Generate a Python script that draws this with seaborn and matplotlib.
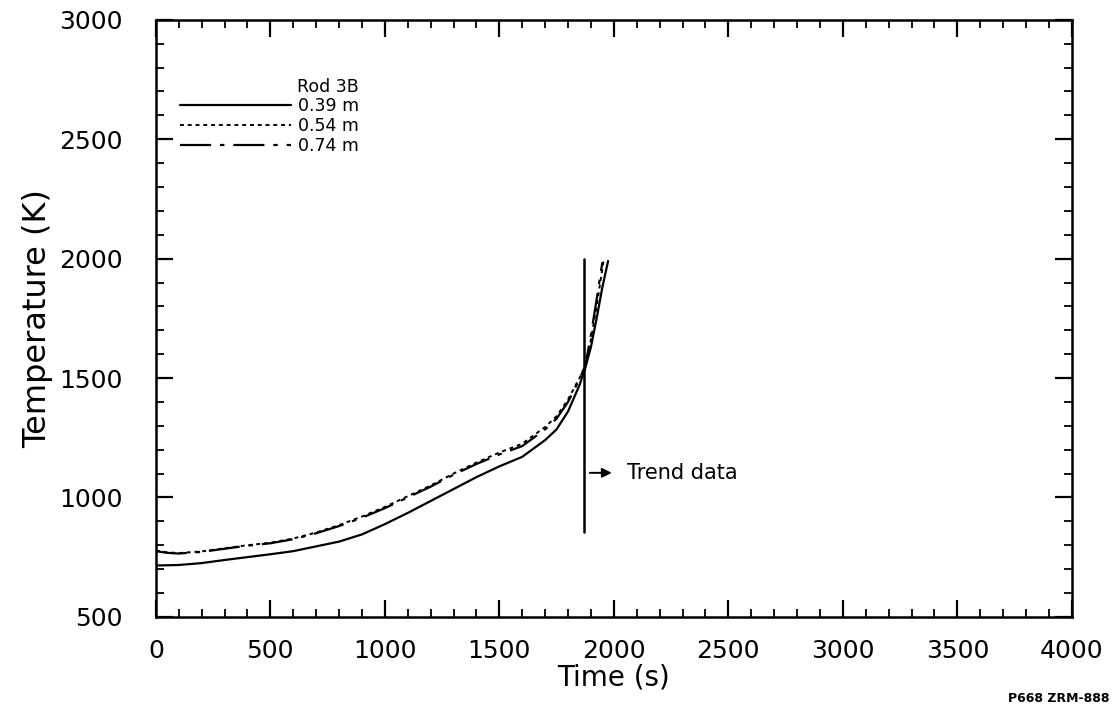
import matplotlib
matplotlib.use("Agg")
import matplotlib.pyplot as plt
import seaborn as sns
import pandas as pd
from matplotlib.ticker import MultipleLocator

sns.set_theme(style="ticks")
plt.rcParams['font.family'] = ['DejaVu Sans']
plt.rcParams['text.color'] = 'black'
plt.rcParams['axes.labelcolor'] = 'black'
plt.rcParams['xtick.color'] = 'black'
plt.rcParams['ytick.color'] = 'black'

# ---- data ----
time_039 = [0, 100, 200, 300, 400, 500, 600, 700, 800, 900, 1000, 1100, 1200, 1300,
            1400, 1500, 1550, 1600, 1700, 1750, 1800, 1850, 1875, 1900, 1925, 1950, 1975]
temp_039 = [715, 717, 725, 738, 750, 762, 775, 795, 815, 845, 888, 935, 985, 1035,
            1085, 1130, 1150, 1170, 1240, 1285, 1360, 1470, 1540, 1630, 1750, 1880, 1990]

time_054 = [0, 50, 100, 200, 300, 400, 500, 600, 700, 800, 900, 1000, 1100, 1200,
            1300, 1400, 1500, 1600, 1700, 1750, 1800, 1850, 1875, 1900, 1925, 1955]
temp_054 = [778, 770, 767, 774, 787, 800, 810, 828, 853, 884, 920, 960, 1005, 1050,
            1100, 1146, 1188, 1225, 1295, 1340, 1410, 1500, 1550, 1660, 1800, 1990]

time_074 = [0, 50, 100, 200, 300, 400, 500, 600, 700, 800, 900, 1000, 1100, 1200,
            1300, 1400, 1500, 1600, 1700, 1750, 1800, 1850, 1875, 1900, 1925, 1950]
temp_074 = [775, 768, 765, 772, 785, 798, 808, 825, 850, 880, 915, 955, 1000, 1045,
            1095, 1140, 1180, 1215, 1285, 1330, 1400, 1495, 1550, 1680, 1830, 1985]

series_labels = ["0.39 m", "0.54 m", "0.74 m"]
legend_title = "Rod 3B"
trend_time = 1870
trend_temp_range = [855, 2000]
trend_label_temp = 1103

x_ticks = [0, 500, 1000, 1500, 2000, 2500, 3000, 3500, 4000]
y_ticks = [500, 1000, 1500, 2000, 2500, 3000]

fig = plt.figure(figsize=(11.13, 7.09), dpi=100)
ax = fig.add_axes([0.140, 0.130, 0.823, 0.842])

styles = [
    dict(linestyle="-", linewidth=1.6),
    dict(linestyle=(0, (2.0, 2.0)), linewidth=1.4),
    dict(linestyle=(0, (14, 4, 2, 4)), linewidth=1.6),
]
datasets = [(time_039, temp_039), (time_054, temp_054), (time_074, temp_074)]
for (t, T), lab, st in zip(datasets, series_labels, styles):
    df = pd.DataFrame({"t": t, "T": T})
    sns.lineplot(data=df, x="t", y="T", ax=ax, color="black", label=lab,
                 estimator=None, sort=False, **st)

ax.plot([trend_time, trend_time], trend_temp_range, color="black", linewidth=1.8)
ax.annotate("Trend data", xy=(1991, trend_label_temp),
            xytext=(2057, trend_label_temp),
            fontsize=15, va="center", ha="left")
ax.annotate("", xy=(1991, trend_label_temp), xytext=(1895, trend_label_temp),
            arrowprops=dict(arrowstyle="-|>", color="black", lw=1.4,
                            shrinkA=0, shrinkB=0, mutation_scale=14))

ax.set_xlim(0, 4000)
ax.set_ylim(500, 3000)
ax.set_xticks(x_ticks)
ax.set_yticks(y_ticks)
ax.xaxis.set_minor_locator(MultipleLocator(100))
ax.yaxis.set_minor_locator(MultipleLocator(100))
ax.tick_params(which="major", direction="in", length=12, width=1.6,
               top=True, right=True, labelsize=18)
ax.tick_params(axis="y", which="major", pad=24)
ax.tick_params(axis="x", which="major", pad=16)
ax.tick_params(which="minor", direction="in", length=6, width=1.3,
               top=True, right=True)
for s in ax.spines.values():
    s.set_linewidth(1.8)
    s.set_color("black")

ax.set_xlabel("Time (s)", fontsize=20, labelpad=0)
ax.set_ylabel("Temperature (K)", fontsize=23, labelpad=4)

leg = ax.legend(loc="upper left", bbox_to_anchor=(0.019, 0.882), frameon=False,
                fontsize=12.5, handlelength=6.4, handletextpad=0.4,
                labelspacing=0.12, borderaxespad=0.0)
for h in leg.get_lines():
    h.set_color("black")
ax.text(0.154, 0.888, legend_title, transform=ax.transAxes, fontsize=12.5,
        ha="left", va="center")

fig.text(0.906, 0.005, "P668 ZRM-888", fontsize=9, fontweight="bold",
         ha="left", va="bottom")

fig.savefig("out.png", dpi=100, facecolor="white")
